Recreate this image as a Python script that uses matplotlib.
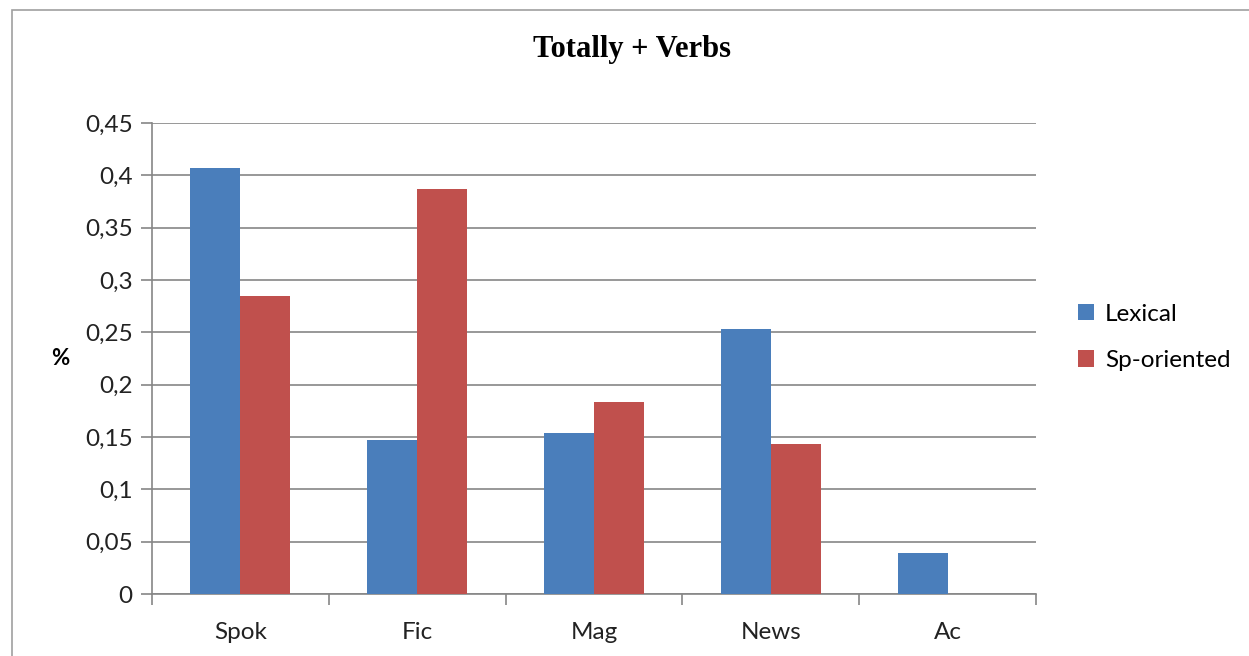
import numpy as np
import matplotlib.pyplot as plt
from matplotlib.patches import Rectangle
from matplotlib.ticker import FuncFormatter

plt.rcParams['font.family'] = ['Lato', 'DejaVu Sans']

categories = ['Spok', 'Fic', 'Mag', 'News', 'Ac']
lexical = [0.407, 0.147, 0.154, 0.253, 0.039]
sp_oriented = [0.285, 0.387, 0.183, 0.143, 0.0]
yticks = [0, 0.05, 0.1, 0.15, 0.2, 0.25, 0.3, 0.35, 0.4, 0.45]

fig = plt.figure(figsize=(12.49, 6.56), dpi=100)
ax = fig.add_axes([0.1217, 0.0945, 0.7078, 0.718])

# 外框
fig.patches.append(Rectangle((12 / 1249, -0.01), 1.02, 1 - 10 / 656 + 0.01,
                             transform=fig.transFigure, fill=False,
                             edgecolor='#a0a0a0', linewidth=1.2))

x = np.arange(len(categories))
w = 0.283
ax.bar(x - w / 2, lexical, w, color='#4a7ebb', label='Lexical', zorder=3)
ax.bar(x + w / 2, sp_oriented, w, color='#c0504d', label='Sp-oriented', zorder=3)

ax.set_xlim(-0.5, len(categories) - 0.5)
ax.set_ylim(0, 0.45)
ax.set_yticks(yticks)
ax.yaxis.set_major_formatter(FuncFormatter(lambda v, p: ('%g' % v).replace('.', ',')))
ax.set_xticks(x)
ax.set_xticklabels(categories)
ax.set_xticks(np.arange(len(categories) + 1) - 0.5, minor=True)
ax.tick_params(axis='x', which='major', length=0, pad=20, labelsize=17.5, colors='#222222')
ax.tick_params(axis='x', which='minor', length=8, color='#868686', width=1.2)
ax.tick_params(axis='y', length=8, color='#868686', width=1.2, pad=6, labelsize=17.5,
               labelcolor='#222222')
ax.grid(axis='y', color='#868686', linewidth=1.2, zorder=0)

for s in ['top', 'right']:
    ax.spines[s].set_visible(False)
ax.spines['left'].set_color('#868686')
ax.spines['bottom'].set_color('#868686')
ax.spines['left'].set_linewidth(1.2)
ax.spines['bottom'].set_linewidth(1.2)

ax.set_ylabel('%', fontsize=16, fontweight='bold', rotation=0, labelpad=18, va='center')
fig.text(0.506, 1 - 50 / 656, 'Totally + Verbs', ha='center', va='center',
         fontsize=22, fontweight='bold', family='Liberation Serif')

ax.legend(loc='center left', bbox_to_anchor=(1.023, 0.545), frameon=False, fontsize=17.5,
          handlelength=0.65, handleheight=0.65, handletextpad=0.45, labelspacing=1.05)

plt.savefig('out.png', dpi=100)
